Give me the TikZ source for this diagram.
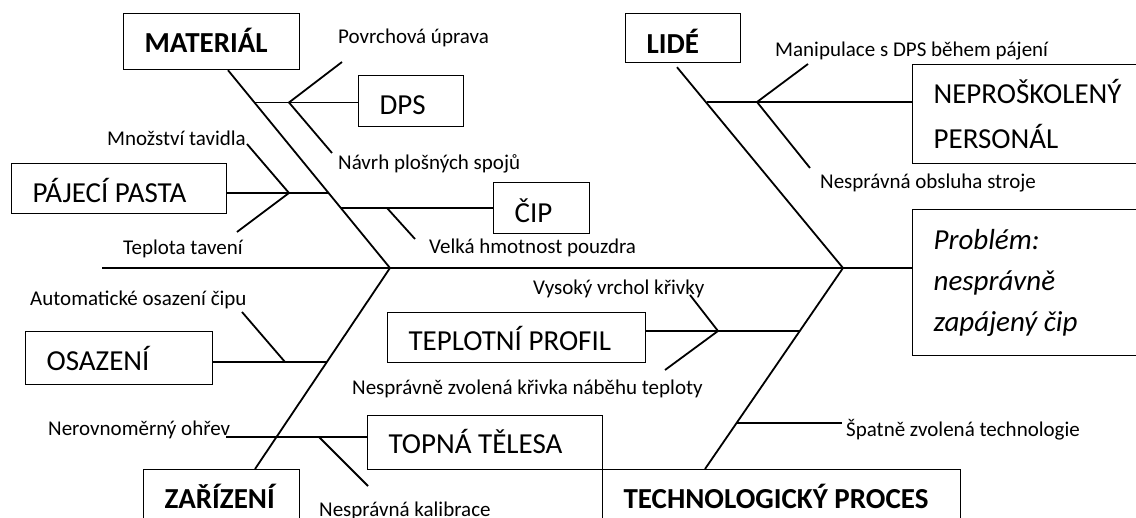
\documentclass[tikz,border=0pt]{standalone}
\usepackage{fontspec}
\setmainfont{Carlito}
\usetikzlibrary{calc}

\begin{document}
\begin{tikzpicture}[x=1pt, y=-1pt,
  bone/.style={line width=1.8pt},
  cause/.style={draw, line width=1.2pt, anchor=north west, align=flush left,
    inner xsep=21pt, inner ysep=0pt, font=\fontsize{29}{41}\selectfont},
  oneline/.style={text height=#1, text depth=6pt},
  tag/.style={anchor=west, inner sep=0pt, font=\fontsize{21}{25}\selectfont,
    text height=18pt, text depth=5pt}]
  \useasboundingbox (0,0) rectangle (1136,518);

  % effect
  \node[cause, text width=186pt, minimum height=146pt,
    font=\fontsize{29}{41}\selectfont\itshape] (prob) at (912,209)
    {Problém:\\nesprávně\\zapájený čip};

  % main causes
  \node[cause, oneline=27pt, text width=134pt, minimum height=56pt] (mat) at (123,13) {\textbf{MATERIÁL}};
  \node[cause, oneline=36pt, text width=73pt, minimum height=49pt] (lide) at (625,13) {\textbf{LIDÉ}};
  \node[cause, oneline=25.3pt, text width=114pt, minimum height=58pt] (zar) at (143,469) {\textbf{ZAŘÍZENÍ}};
  \node[cause, oneline=25.3pt, text width=316pt, minimum height=58pt] (tech) at (602,469) {\textbf{TECHNOLOGICKÝ PROCES}};

  % secondary causes
  \node[cause, oneline=33pt, text width=63pt, minimum height=51pt] (dps) at (358,75) {DPS};
  \node[cause, oneline=33.3pt, text width=173pt, minimum height=50pt] (pasta) at (11,163) {PÁJECÍ PASTA};
  \node[cause, oneline=35.3pt, text width=54pt, minimum height=51pt] (cip) at (493,182) {ČIP};
  \node[cause, font=\fontsize{29}{45}\selectfont, text width=200pt, minimum height=99pt] (neprosk) at (912,64) {NEPROŠKOLENÝ\\PERSONÁL};
  \node[cause, oneline=31.3pt, text width=145pt, minimum height=53pt] (osaz) at (25,331) {OSAZENÍ};
  \node[cause, oneline=32.3pt, text width=216pt, minimum height=50pt] (tepl) at (387,312) {TEPLOTNÍ PROFIL};
  \node[cause, oneline=28.3pt, text width=193pt, minimum height=54pt] (topna) at (367,415) {TOPNÁ TĚLESA};

  % labels
  \node[tag] (povrch) at (338,37) {Povrchová úprava};
  \node[tag] (navrh) at (338,163.5) {Návrh plošných spojů};
  \node[tag] (mnoz) at (107,139) {Množství tavidla};
  \node[tag] (tavit) at (123,248) {Teplota tavení};
  \node[tag] (hmot) at (429,247) {Velká hmotnost pouzdra};
  \node[tag] (manip) at (775,50) {Manipulace s DPS během pájení};
  \node[tag] (obsl) at (820,182) {Nesprávná obsluha stroje};
  \node[tag] (auto) at (30,299) {Automatické osazení čipu};
  \node[tag] (vrch) at (533,288) {Vysoký vrchol křivky};
  \node[tag] (nabeh) at (352,388) {Nesprávně zvolená křivka náběhu teploty};
  \node[tag] (ohrev) at (48,429) {Nerovnoměrný ohřev};
  \node[tag] (kalib) at (319,510) {Nesprávná kalibrace};
  \node[tag] (techn) at (846,430) {Špatně zvolená technologie};

  % spine and main bones
  \coordinate (tail) at (102,268);
  \coordinate (headL) at (390,268);
  \coordinate (headR) at (843,268);
  \coordinate (mA) at ($(mat.south west)+(105,0)$);
  \coordinate (lA) at ($(lide.south west)+(52,4)$);
  \coordinate (zA) at ($(zar.north west)+(112,0)$);
  \coordinate (tA) at ($(tech.north west)+(103,0)$);
  \draw[bone] (tail) -- (tail -| prob.west);
  \draw[bone] (mA) -- (headL) -- (zA);
  \draw[bone] (lA) -- (headR) -- (tA);

  % points on the bones
  \coordinate (bDps) at (255,102.5);
  \coordinate (bPasta) at (329,193);
  \coordinate (bCip) at (341,208);
  \coordinate (bLide) at (707,102);
  \coordinate (bOsaz) at (327,362);
  \coordinate (bTepl) at (800,331);
  \coordinate (bTechn) at (737,423);
  \coordinate (ohrevEnd) at (226,437);

  % sub bones
  \draw[bone] (bDps) -- (dps.west |- bDps);
  \draw[bone] (pasta.east |- bPasta) -- (bPasta);
  \draw[bone] (bCip) -- (cip.west |- bCip);
  \draw[bone] (bLide) -- (neprosk.west |- bLide);
  \draw[bone] (osaz.east |- bOsaz) -- (bOsaz);
  \draw[bone] (tepl.east |- bTepl) -- (bTepl);
  \draw[bone] (ohrevEnd) -- (topna.west |- ohrevEnd);
  \draw[bone, shorten >=4pt] (bTechn) -- (techn.west |- bTechn);

  % junctions and twigs
  \coordinate (jDps) at (289,102.5);
  \coordinate (jPasta) at (289,193);
  \coordinate (jCip) at (387,208);
  \coordinate (jLide) at (757,102);
  \coordinate (jOsaz) at (285,362);
  \coordinate (jTopna) at (319,437);
  \coordinate (jTepl) at (718,331);
  \coordinate (tPovrch) at (342,62);
  \coordinate (tNavrh) at (332,153);
  \coordinate (tMnoz) at (247,144);
  \coordinate (tTavit) at (237,232);
  \coordinate (tHmot) at (415,239);
  \coordinate (tManip) at (808,64);
  \coordinate (tObsl) at (810,168);
  \coordinate (tAuto) at (242,312);
  \coordinate (tKalib) at (368,486);
  \coordinate (tVrch) at (690,295);
  \coordinate (tNabeh) at (665,370);
  \draw[bone] (tPovrch) -- (jDps) -- (tNavrh);
  \draw[bone] (tMnoz) -- (jPasta) -- (tTavit);
  \draw[bone] (jCip) -- (tHmot);
  \draw[bone] (tManip) -- (jLide) -- (tObsl);
  \draw[bone] (tAuto) -- (jOsaz);
  \draw[bone] (jTopna) -- (tKalib);
  \draw[bone] (tVrch) -- (jTepl) -- (tNabeh);
\end{tikzpicture}
\end{document}
